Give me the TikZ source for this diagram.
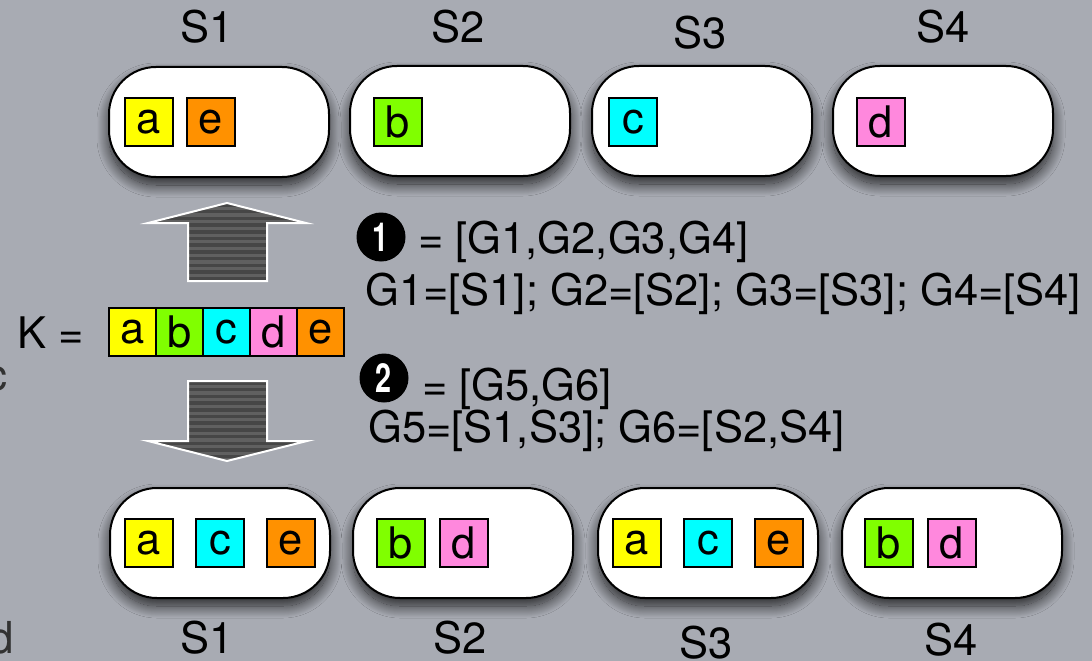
\documentclass[tikz,border=0pt]{standalone}
\usepackage{fontspec}
\usepackage{graphicx}
\setmainfont{TeX Gyre Heros}
\usetikzlibrary{shadows.blur}
\definecolor{bgc}{RGB}{168,171,179}
\definecolor{ya}{RGB}{255,255,0}
\definecolor{gb}{RGB}{128,255,0}
\definecolor{cc}{RGB}{0,255,255}
\definecolor{pd}{RGB}{255,136,221}
\definecolor{oe}{RGB}{255,145,0}
\definecolor{adark}{RGB}{70,70,70}
\definecolor{alight}{RGB}{96,96,96}
\definecolor{stray}{RGB}{50,50,50}
\tikzset{
  every node/.style={font=\fontsize{43.5}{50}\selectfont, text=black},
  capsule/.style={draw=black, line width=2pt, fill=white, rounded corners=47pt,
    minimum width=220pt, minimum height=110pt, inner sep=0pt,
    blur shadow={shadow xshift=0pt, shadow yshift=-8pt, shadow blur radius=12pt,
      shadow blur steps=25, shadow opacity=80}},
  sq/.style={draw=black, line width=1.6pt, minimum size=48pt, inner sep=0pt},
  cell/.style={draw=black, line width=1.6pt, minimum width=47pt, minimum height=48pt, inner sep=0pt},
  lbl/.style={inner sep=0pt},
  txt/.style={inner sep=0pt, anchor=base west},
  ding/.style={circle, fill=black, minimum size=49pt, inner sep=0pt, text=white,
    font=\fontsize{40}{42}\selectfont\bfseries},
  arrowout/.style={draw=white, line width=2pt, line join=miter}
}
\begin{document}
\begin{tikzpicture}[x=1pt,y=-1pt]
\fill[bgc] (0,0) rectangle (1092,661);
\useasboundingbox (0,0) rectangle (1092,661);

% stray partial letters at left edge
\node[txt, anchor=base east, text=stray, font=\fontsize{44}{50}\selectfont] (strayc) at (8,390) {c};
\node[txt, anchor=base east, text=stray, font=\fontsize{44}{50}\selectfont] (strayd) at (14,653) {d};

% top row labels
\node[lbl] (lt1) at (207,27) {S1};
\node[lbl] (lt2) at (458,27) {S2};
\node[lbl] (lt3) at (700,33) {S3};
\node[lbl] (lt4) at (943,27) {S4};

% top row capsules
\node[capsule] (t1) at (219,122) {};
\node[capsule] (t2) at (460,121) {};
\node[capsule] (t3) at (702,121) {};
\node[capsule] (t4) at (943,121) {};
\node[sq, fill=ya] (t1a) at (149,122) {a};
\node[sq, fill=oe] (t1e) at (211,122) {e};
\node[sq, fill=gb] (t2b) at (398,122) {b};
\node[sq, fill=cc] (t3c) at (633,122) {c};
\node[sq, fill=pd] (t4d) at (881,122) {d};

% bottom row capsules
\node[capsule] (b1) at (220,543) {};
\node[capsule] (b2) at (463,543) {};
\node[capsule] (b3) at (708,543) {};
\node[capsule] (b4) at (952,543) {};
\node[sq, fill=ya] (b1a) at (149,543) {a};
\node[sq, fill=cc] (b1c) at (220,543) {c};
\node[sq, fill=oe] (b1e) at (291,543) {e};
\node[sq, fill=gb] (b2b) at (401,543) {b};
\node[sq, fill=pd] (b2d) at (464,543) {d};
\node[sq, fill=ya] (b3a) at (637,543) {a};
\node[sq, fill=cc] (b3c) at (708,543) {c};
\node[sq, fill=oe] (b3e) at (779,543) {e};
\node[sq, fill=gb] (b4b) at (889,543) {b};
\node[sq, fill=pd] (b4d) at (952,543) {d};

% bottom labels
\node[lbl] (lb1) at (207,638) {S1};
\node[lbl] (lb2) at (460,638) {S2};
\node[lbl] (lb3) at (706,643) {S3};
\node[lbl] (lb4) at (951,640) {S4};

% K array
\node[txt] (klabel) at (17,348) {K =};
\node[cell, fill=ya] (k1) at (132.5,332) {a};
\node[cell, fill=gb] (k2) at (179.5,332) {b};
\node[cell, fill=cc] (k3) at (226.5,332) {c};
\node[cell, fill=pd] (k4) at (273.5,332) {d};
\node[cell, fill=oe] (k5) at (320.5,332) {e};

% up arrow
\def\uparrowpath{(148,223) -- (227,203) -- (306,223) -- (267,223) -- (267,281) -- (188,281) -- (188,223) -- cycle}
\fill[adark] \uparrowpath;
\begin{scope}
  \clip \uparrowpath;
  \foreach \yy in {200,206.7,...,290} {\fill[alight] (140,\yy) rectangle (315,\yy+3.2);}
\end{scope}
\draw[arrowout] \uparrowpath;

% down arrow
\def\downarrowpath{(188,381) -- (267,381) -- (267,441) -- (307,441) -- (227,461) -- (148,441) -- (188,441) -- cycle}
\fill[adark] \downarrowpath;
\begin{scope}
  \clip \downarrowpath;
  \foreach \yy in {378,384.7,...,470} {\fill[alight] (140,\yy) rectangle (315,\yy+3.2);}
\end{scope}
\draw[arrowout] \downarrowpath;

% text block
\node[ding] (n1) at (381,237) {\scalebox{0.72}[1]{1}};
\node[txt] (l1) at (418,253) {= [G1,G2,G3,G4]};
\node[txt] (l2) at (365,305) {G1=[S1]; G2=[S2]; G3=[S3]; G4=[S4]};
\node[ding] (n2) at (384,378) {\scalebox{0.72}[1]{2}};
\node[txt] (l3) at (422,400) {= [G5,G6]};
\node[txt] (l4) at (368,442) {G5=[S1,S3]; G6=[S2,S4]};
\end{tikzpicture}
\end{document}
